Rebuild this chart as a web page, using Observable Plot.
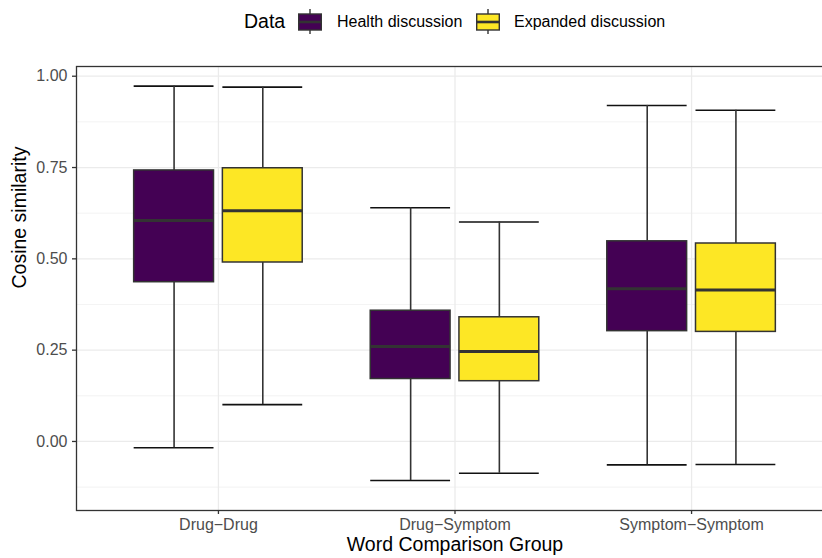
<!DOCTYPE html>
<html>
<head>
<meta charset="utf-8">
<script src="https://cdn.jsdelivr.net/npm/d3@7"></script>
<script src="https://cdn.jsdelivr.net/npm/@observablehq/plot@0.6"></script>
<style>
  html, body { margin: 0; padding: 0; background: #fff; overflow: hidden; }
  body { width: 822px; height: 558px; font-family: "Liberation Sans", Arial, Helvetica, sans-serif; }
  #legend { position: relative; height: 44px; width: 822px; }
  #legend > * { position: absolute; top: 0; height: 43px; display: flex; align-items: center; }
  #legend .title { font-size: 19.5px; color: #000; }
  #legend .lab { font-size: 16px; color: #000; }
</style>
</head>
<body>
<div id="legend"></div>
<div id="chart"></div>
<script>
// ---- data ----
const categories = ["Drug\u2212Drug", "Drug\u2212Symptom", "Symptom\u2212Symptom"];
const series = ["Health discussion", "Expanded discussion"];
const seriesColors = ["#440154", "#FDE725"];

const healthMin = [-0.017, -0.107, -0.064];
const healthQ1  = [0.436, 0.171, 0.302];
const healthMed = [0.605, 0.260, 0.418];
const healthQ3  = [0.742, 0.358, 0.548];
const healthMax = [0.973, 0.640, 0.920];

const expandedMin = [0.101, -0.087, -0.063];
const expandedQ1  = [0.490, 0.165, 0.300];
const expandedMed = [0.632, 0.246, 0.415];
const expandedQ3  = [0.748, 0.340, 0.542];
const expandedMax = [0.970, 0.601, 0.907];

const yMajorTicks = [0, 0.25, 0.5, 0.75, 1.0];
const yMinorTicks = [-0.125, 0.125, 0.375, 0.625, 0.875];

// ---- build table ----
const stats = [
  [healthMin, healthQ1, healthMed, healthQ3, healthMax],
  [expandedMin, expandedQ1, expandedMed, expandedQ3, expandedMax]
];
const dodge = 0.1875, halfBox = 0.16875;
const rows = [];
categories.forEach((c, i) => {
  series.forEach((s, j) => {
    const [mn, q1, md, q3, mx] = stats[j];
    const xc = (i + 1) + (j === 0 ? -dodge : dodge);
    rows.push({cat: i + 1, series: s, xc, x1: xc - halfBox, x2: xc + halfBox,
      min: mn[i], q1: q1[i], med: md[i], q3: q3[i], max: mx[i]});
  });
});

// ---- legend ----
const legend = document.getElementById("legend");
function keySvg(color) {
  return `<svg width="24" height="26" style="display:block;overflow:visible">
    <line x1="12" y1="0" x2="12" y2="25" stroke="#333" stroke-width="1.4"/>
    <rect x="0.7" y="5" width="22.6" height="16" fill="${color}" stroke="#333" stroke-width="1.4"/>
    <line x1="0.7" y1="13" x2="23.3" y2="13" stroke="#333" stroke-width="2.6"/>
  </svg>`;
}
const legendItems = [
  {html: `<span class="title">Data</span>`, left: 244},
  {html: keySvg(seriesColors[0]), left: 298},
  {html: `<span class="lab">${series[0]}</span>`, left: 337},
  {html: keySvg(seriesColors[1]), left: 476},
  {html: `<span class="lab">${series[1]}</span>`, left: 514}
];
legendItems.forEach(it => {
  const d = document.createElement("div");
  d.style.left = it.left + "px";
  d.innerHTML = it.html;
  legend.appendChild(d);
});

// ---- chart ----
const font = "Liberation Sans, Arial, Helvetica, sans-serif";
const chart = Plot.plot({
  width: 822,
  height: 514,
  marginLeft: 76,
  marginRight: -11,
  marginTop: 22,
  marginBottom: 48,
  style: {fontFamily: font, overflow: "hidden", background: "#fff"},
  x: {domain: [0.4, 3.6]},
  y: {domain: [-0.189, 1.0266]},
  color: {domain: series, range: seriesColors},
  marks: [
    Plot.ruleY(yMinorTicks, {stroke: "#EEEEEE", strokeWidth: 0.7}),
    Plot.ruleY(yMajorTicks, {stroke: "#EBEBEB", strokeWidth: 1.3}),
    Plot.ruleX([1, 2, 3], {stroke: "#EBEBEB", strokeWidth: 1.3}),
    // error bar caps
    Plot.ruleY(rows, {y: "max", x1: "x1", x2: "x2", stroke: "#111", strokeWidth: 1.6}),
    Plot.ruleY(rows, {y: "min", x1: "x1", x2: "x2", stroke: "#111", strokeWidth: 1.6}),
    // whiskers
    Plot.ruleX(rows, {x: "xc", y1: "q3", y2: "max", stroke: "#333", strokeWidth: 1.6}),
    Plot.ruleX(rows, {x: "xc", y1: "min", y2: "q1", stroke: "#333", strokeWidth: 1.6}),
    // boxes
    Plot.rect(rows, {x1: "x1", x2: "x2", y1: "q1", y2: "q3", fill: "series", stroke: "#333", strokeWidth: 1.5}),
    // medians
    Plot.ruleY(rows, {y: "med", x1: "x1", x2: "x2", stroke: "#333", strokeWidth: 3}),
    Plot.frame({stroke: "#333", strokeWidth: 1.3}),
    Plot.axisY(yMajorTicks, {tickFormat: d => d.toFixed(2), fontSize: 16, color: "#4D4D4D",
      stroke: "#333", strokeWidth: 1.3, tickSize: 4, tickPadding: 5, label: null}),
    Plot.axisX([1, 2, 3], {tickFormat: d => categories[d - 1], fontSize: 16, color: "#4D4D4D",
      stroke: "#333", strokeWidth: 1.3, tickSize: 4, tickPadding: 4, label: null}),
    Plot.text(["Cosine similarity"], {frameAnchor: "left", dx: -57, rotate: -90,
      fontSize: 19.5, fill: "#000"}),
    Plot.text(["Word Comparison Group"], {frameAnchor: "bottom", dy: 40,
      fontSize: 19.5, fill: "#000"})
  ]
});
document.getElementById("chart").appendChild(chart);
</script>
</body>
</html>
